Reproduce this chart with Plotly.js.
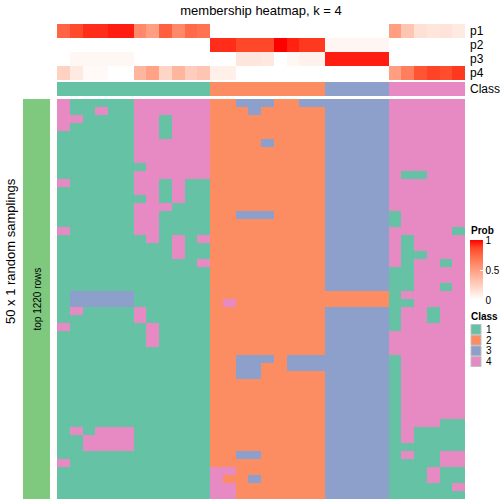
<!DOCTYPE html>
<html>
<head>
<meta charset="utf-8">
<script src="https://cdn.plot.ly/plotly-3.0.1.min.js"></script>
<style>html,body{margin:0;padding:0;background:#fff}#chart{width:504px;height:504px}</style>
</head>
<body>
<div id="chart"></div>
<script>
// ---- data ----
const classNames = ['1', '2', '3', '4'];
const classColors = ['#66C2A5', '#FC8D62', '#8DA0CB', '#E78AC3'];
const rowLabels = ['p1', 'p2', 'p3', 'p4'];
const columnClass = [1,1,1,1,1,1,1,1,1,1,1,1, 2,2,2,2,2,2,2,2,2, 3,3,3,3,3, 4,4,4,4,4,4];
const p1 = [0.76,0.86,0.92,0.92,0.95,0.95,0.6,0.5,0.78,0.6,0.74,0.7, 0,0,0,0,0,0,0,0,0, 0,0,0,0,0, 0.5,0.3,0.16,0.13,0.15,0.11];
const p2 = [0,0,0,0,0,0,0,0,0,0,0,0, 0.92,0.92,0.87,0.87,0.87,1.0,0.94,0.9,0.9, 0.05,0.05,0.05,0.05,0.05, 0,0,0,0,0,0];
const p3 = [0,0.04,0.04,0.04,0.04,0.04,0,0,0,0,0,0, 0,0,0.13,0.13,0.12,0,0.04,0.07,0.07, 0.95,0.95,0.95,0.95,0.95, 0,0,0,0,0,0];
const p4 = [0.24,0.11,0.03,0.03,0,0,0.38,0.48,0.22,0.38,0.26,0.3, 0.08,0.08,0,0,0,0,0,0,0, 0,0,0,0,0, 0.5,0.65,0.82,0.88,0.85,0.9];
// class assigned in each of 50 random samplings (rows) for 32 samples (columns)
const samplingRows = [
  '411111444444'+'223332233'+'33333'+'444444',
  '411411444444'+'222322222'+'33333'+'444444',
  '441111441444'+'222222222'+'33333'+'444444',
  '411111441444'+'222222222'+'33333'+'444444',
  '111111441444'+'222222222'+'33333'+'444444',
  '111111444444'+'222232222'+'33333'+'444444',
  '111111444444'+'222222222'+'33333'+'444444',
  '111111444444'+'222222222'+'33333'+'444444',
  '111111144444'+'222222222'+'33333'+'444444',
  '111111444444'+'222222222'+'33333'+'411444',
  '411111441411'+'222222222'+'33333'+'444444',
  '111111441411'+'222222222'+'33333'+'444444',
  '111111141411'+'222222222'+'33333'+'444444',
  '111111444111'+'222222222'+'33333'+'444444',
  '111111441111'+'223332222'+'33333'+'144444',
  '111111441111'+'222222222'+'33333'+'144444',
  '411111441111'+'222222222'+'33333'+'444441',
  '111111141414'+'222222222'+'33333'+'414444',
  '111111111411'+'222222222'+'33333'+'414444',
  '111111111411'+'222222222'+'33333'+'411444',
  '111111111114'+'222222222'+'33333'+'414414',
  '111111111111'+'222222222'+'33333'+'114444',
  '111111111111'+'222222222'+'33333'+'114444',
  '111111111111'+'222222222'+'33333'+'114414',
  '133333111111'+'222222222'+'22222'+'144444',
  '133333111111'+'242222222'+'22222'+'114444',
  '141111411111'+'222222222'+'33333'+'144144',
  '111111411111'+'222222222'+'33333'+'144144',
  '411111141111'+'222222222'+'33333'+'144444',
  '111111141111'+'222222222'+'33333'+'444444',
  '111111141111'+'222222222'+'33333'+'444444',
  '111111111111'+'222222222'+'33333'+'444444',
  '111111111111'+'223332333'+'33333'+'144444',
  '111111111111'+'223322333'+'33333'+'144444',
  '111111111111'+'223322222'+'33333'+'144444',
  '111111111111'+'222222222'+'33333'+'144444',
  '111111111111'+'222222222'+'33333'+'144444',
  '111111111111'+'222222222'+'33333'+'144444',
  '111111111111'+'222222222'+'33333'+'144444',
  '111111111111'+'222222222'+'33333'+'144444',
  '111111111111'+'222222222'+'33333'+'144411',
  '141444111111'+'222222222'+'33333'+'141111',
  '114444111111'+'222222222'+'33333'+'141111',
  '114444111111'+'222222222'+'33333'+'111111',
  '111111111111'+'223322222'+'33333'+'141144',
  '411111111111'+'222222222'+'33333'+'111144',
  '111111111111'+'442222222'+'33333'+'111411',
  '111111111111'+'422322222'+'33333'+'111411',
  '111111111111'+'442222222'+'33333'+'111114',
  '111111111111'+'442222222'+'33333'+'111111'
];
const titleText = 'membership heatmap, k = 4';
const rowTitle = '50 x 1 random samplings';
const rowGroupLabel = 'top 1220 rows';

// ---- build ----
const W = 504, H = 504;
const px = v => v / W;
const py = v => 1 - v / H;
const nCols = columnClass.length;
const colIdx = columnClass.map((_, i) => i + 1);
const zMain = samplingRows.map(r => r.split('').map(Number));
const rowIdx = zMain.map((_, i) => i + 1);

const discreteScale = [];
classColors.forEach((c, i) => { discreteScale.push([i / 4, c]); discreteScale.push([(i + 1) / 4, c]); });
const probScale = [[0,'#ffffff'],[0.125,'rgb(255,231,222)'],[0.25,'rgb(255,207,191)'],[0.375,'rgb(255,183,160)'],
  [0.5,'rgb(255,158,129)'],[0.625,'rgb(255,132,100)'],[0.75,'rgb(255,104,70)'],[0.875,'rgb(255,70,40)'],[1,'rgb(255,0,0)']];

const font = 'Liberation Sans, Arial, sans-serif';
const traces = [
  { type: 'heatmap', z: [p1, p2, p3, p4], x: colIdx, y: [1, 2, 3, 4], xaxis: 'x', yaxis: 'y2',
    zmin: 0, zmax: 1, colorscale: probScale, hoverinfo: 'skip',
    colorbar: { x: px(470), xanchor: 'left', xref: 'paper', xpad: 0, y: py(240), yanchor: 'top', yref: 'paper', ypad: 0,
      len: 60, lenmode: 'pixels', thickness: 13, outlinewidth: 0,
      tickvals: [0, 0.5, 1], ticktext: ['0', '0.5', '1'], ticks: 'inside', ticklen: 3, tickcolor: '#ffffff',
      tickfont: { family: font, size: 10, color: '#000' } } },
  { type: 'heatmap', z: [columnClass], x: colIdx, y: [1], xaxis: 'x', yaxis: 'y3',
    zmin: 0.5, zmax: 4.5, colorscale: discreteScale, showscale: false, hoverinfo: 'skip' },
  { type: 'heatmap', z: zMain, x: colIdx, y: rowIdx, xaxis: 'x', yaxis: 'y',
    zmin: 0.5, zmax: 4.5, colorscale: discreteScale, showscale: false, hoverinfo: 'skip' },
  { type: 'heatmap', z: rowIdx.map(() => [1]), x: [1], y: rowIdx, xaxis: 'x2', yaxis: 'y',
    zmin: 0, zmax: 1, colorscale: [[0, '#7FC97F'], [1, '#7FC97F']], showscale: false, hoverinfo: 'skip' },
  { type: 'scatter', mode: 'markers', x: classNames.map(() => 0.5), y: classNames.map((_, i) => i + 1),
    xaxis: 'x3', yaxis: 'y4', hoverinfo: 'skip', showlegend: false,
    marker: { symbol: 'square', size: 10, color: classColors, line: { color: '#BEBEBE', width: 1 } } }
];

const hidden = { showgrid: false, zeroline: false, showticklabels: false, ticks: '', showline: false, fixedrange: true };
const annotations = [];
rowLabels.forEach((t, i) => annotations.push({ text: t, xref: 'paper', x: px(468), xanchor: 'left', yref: 'y2', y: i + 1,
  showarrow: false, font: { family: font, size: 12, color: '#000' } }));
annotations.push({ text: 'Class', xref: 'paper', x: px(468), xanchor: 'left', yref: 'y3', y: 1,
  showarrow: false, font: { family: font, size: 12, color: '#000' } });
annotations.push({ text: rowGroupLabel, xref: 'x2', x: 1, xanchor: 'center', yref: 'y', y: (rowIdx.length + 1) / 2,
  yanchor: 'middle', textangle: -90, showarrow: false, font: { family: font, size: 10, color: '#000' } });
annotations.push({ text: rowTitle, xref: 'paper', x: px(10), xanchor: 'center', yref: 'paper', y: py(251),
  yanchor: 'middle', textangle: -90, showarrow: false, font: { family: font, size: 13, color: '#000' } });
annotations.push({ text: '<b>Prob</b>', xref: 'paper', x: px(469), xanchor: 'left', yref: 'paper', y: py(231),
  yanchor: 'middle', showarrow: false, font: { family: font, size: 10, color: '#000' } });
annotations.push({ text: '<b>Class</b>', xref: 'paper', x: px(469), xanchor: 'left', yref: 'paper', y: py(316),
  yanchor: 'middle', showarrow: false, font: { family: font, size: 10, color: '#000' } });
classNames.forEach((t, i) => annotations.push({ text: t, xref: 'paper', x: px(484), xanchor: 'left', yref: 'y4', y: i + 1,
  showarrow: false, font: { family: font, size: 10, color: '#000' } }));

const layout = {
  width: W, height: H, margin: { l: 0, r: 0, t: 0, b: 0, autoexpand: false },
  paper_bgcolor: '#fff', plot_bgcolor: '#fff', showlegend: false,
  title: { text: titleText, x: px(261), xanchor: 'center', xref: 'paper', y: py(10), yanchor: 'middle', yref: 'container',
    font: { family: font, size: 13, color: '#000' } },
  xaxis: Object.assign({ domain: [px(57), px(465)], range: [0.5, nCols + 0.5] }, hidden),
  xaxis2: Object.assign({ domain: [px(23), px(50)], range: [0.5, 1.5], anchor: 'y' }, hidden),
  xaxis3: Object.assign({ domain: [px(470), px(482)], range: [0, 1], anchor: 'y4' }, hidden),
  yaxis: Object.assign({ domain: [py(499), py(99)], range: [rowIdx.length + 0.5, 0.5] }, hidden),
  yaxis2: Object.assign({ domain: [py(80), py(24)], range: [4.5, 0.5], anchor: 'x' }, hidden),
  yaxis3: Object.assign({ domain: [py(96), py(82)], range: [0.5, 1.5], anchor: 'x' }, hidden),
  yaxis4: Object.assign({ domain: [py(367), py(324)], range: [4.5, 0.5], anchor: 'x3' }, hidden),
  annotations: annotations
};
Plotly.newPlot('chart', traces, layout, { staticPlot: true, displayModeBar: false });
</script>
</body>
</html>
